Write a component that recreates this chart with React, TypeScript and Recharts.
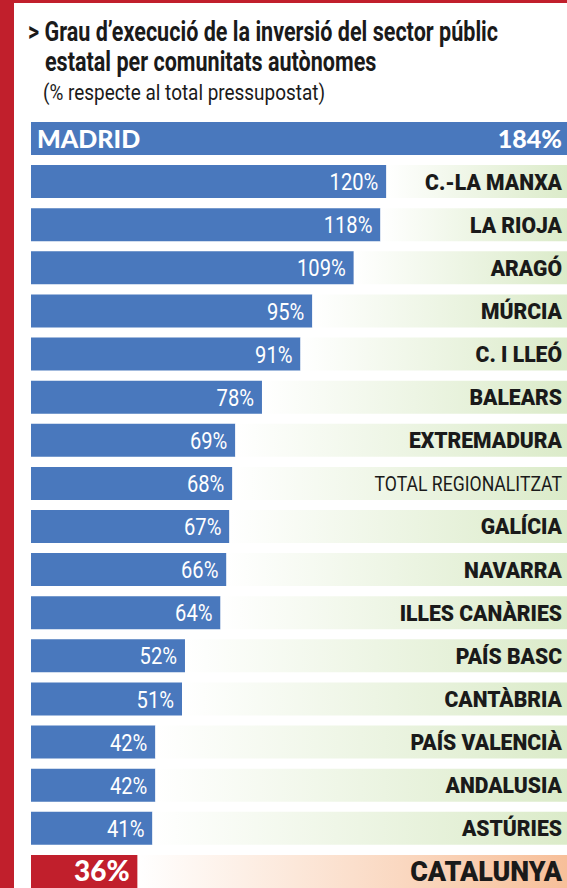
import { Bar, BarChart, Cell, LabelList, XAxis, YAxis } from "recharts";

const regions = [
  "MADRID",
  "C.-LA MANXA",
  "LA RIOJA",
  "ARAGÓ",
  "MÚRCIA",
  "C. I LLEÓ",
  "BALEARS",
  "EXTREMADURA",
  "TOTAL REGIONALITZAT",
  "GALÍCIA",
  "NAVARRA",
  "ILLES CANÀRIES",
  "PAÍS BASC",
  "CANTÀBRIA",
  "PAÍS VALENCIÀ",
  "ANDALUSIA",
  "ASTÚRIES",
  "CATALUNYA",
];
const execution = [184, 120, 118, 109, 95, 91, 78, 69, 68, 67, 66, 64, 52, 51, 42, 42, 41, 36];

const X_MAX = 181;
const W = 567;
const NARROW = "'Liberation Sans Narrow', 'Arial Narrow', Roboto, sans-serif";
const HEAVY = "Lato, 'Noto Sans', sans-serif";
const BLUE = "#4978bd";
const RED = "#c11f2c";

const rows = regions.map((name, i) => ({
  name,
  value: execution[i],
  rest: Math.max(0, X_MAX - execution[i]),
}));

const first = regions[0];
const last = regions[regions.length - 1];

function ValueLabel(props: any) {
  const { x, y, width, height, value: name } = props;
  const cy = y + height / 2;
  const pct = execution[regions.indexOf(name)];
  if (name === first) {
    return (
      <g fontFamily={HEAVY} fontWeight={900} fill="#fff" fontSize={25}>
        <text x={x + 6} y={cy} dy="0.36em">
          {name}
        </text>
        <text x={W - 5} y={cy} dy="0.36em" textAnchor="end">
          {pct}%
        </text>
      </g>
    );
  }
  const right = Math.min(x + width, W) - 8;
  if (name === last) {
    return (
      <text x={right} y={cy} dy="0.36em" textAnchor="end" fill="#fff" fontFamily={HEAVY} fontWeight={900} fontSize={28}>
        {pct}%
      </text>
    );
  }
  return (
    <text
      transform={`translate(${right},${cy}) scale(0.84,1)`}
      dy="0.36em"
      textAnchor="end"
      fill="#fff"
      fontFamily={NARROW}
      fontWeight={400}
      fontSize={24}
    >
      {pct}%
    </text>
  );
}

function NameLabel(props: any) {
  const { y, height, value: name } = props;
  if (name === first) return null;
  const cy = y + height / 2;
  const plain = name === "TOTAL REGIONALITZAT";
  const big = name === last;
  return (
    <text
      transform={`translate(${W - 5},${cy}) scale(${plain ? 0.84 : 0.96},1)`}
      dy="0.36em"
      textAnchor="end"
      fill="#1a1a1a"
      fontFamily={NARROW}
      fontWeight={plain ? 400 : 900}
      fontSize={big ? 28 : plain ? 21 : 22}
    >
      {name}
    </text>
  );
}

export default function App() {
  return (
    <div
      style={{
        position: "absolute",
        left: 0,
        top: 0,
        width: W,
        height: 888,
        overflow: "hidden",
        background: "#fff",
      }}
    >
      <div style={{ position: "absolute", left: 0, top: 0, width: 14, height: 888, background: RED }} />
      <div style={{ position: "absolute", left: 0, top: 0, width: W, height: 3, background: RED }} />
      <div
        style={{
          position: "absolute",
          left: 28,
          top: 17,
          fontFamily: NARROW,
          fontWeight: 700,
          fontSize: 28,
          lineHeight: "30px",
          color: "#1a1a1a",
          transform: "scaleX(0.77)",
          transformOrigin: "left top",
          whiteSpace: "nowrap",
        }}
      >
        <div>{"> Grau d’execució de la inversió del sector públic"}</div>
        <div style={{ paddingLeft: 22 }}>estatal per comunitats autònomes</div>
      </div>
      <div
        style={{
          position: "absolute",
          left: 43,
          top: 80,
          fontFamily: NARROW,
          fontSize: 22,
          color: "#1a1a1a",
          transform: "scaleX(0.86)",
          transformOrigin: "left top",
          whiteSpace: "nowrap",
        }}
      >
        (% respecte al total pressupostat)
      </div>
      <div style={{ position: "absolute", left: 0, top: 117 }}>
        <BarChart
          width={W}
          height={776}
          data={rows}
          layout="vertical"
          margin={{ top: 0, right: 0, bottom: 0, left: 31 }}
          barSize={33}
        >
          <defs>
            <linearGradient id="greenFade" x1="0" y1="0" x2="1" y2="0">
              <stop offset="0%" stopColor="#ffffff" />
              <stop offset="100%" stopColor="#dbebc9" />
            </linearGradient>
            <linearGradient id="salmonFade" x1="0" y1="0" x2="1" y2="0">
              <stop offset="0%" stopColor="#ffffff" />
              <stop offset="100%" stopColor="#f7bf99" />
            </linearGradient>
          </defs>
          <XAxis type="number" domain={[0, X_MAX]} allowDataOverflow hide />
          <YAxis type="category" dataKey="name" hide />
          <Bar dataKey="value" stackId="a" isAnimationActive={false}>
            {rows.map((r) => (
              <Cell key={r.name} fill={r.name === last ? RED : BLUE} />
            ))}
            <LabelList dataKey="name" content={ValueLabel} />
          </Bar>
          <Bar dataKey="rest" stackId="a" isAnimationActive={false}>
            {rows.map((r) => (
              <Cell key={r.name} fill={r.name === last ? "url(#salmonFade)" : "url(#greenFade)"} />
            ))}
            <LabelList dataKey="name" content={NameLabel} />
          </Bar>
        </BarChart>
      </div>
    </div>
  );
}
